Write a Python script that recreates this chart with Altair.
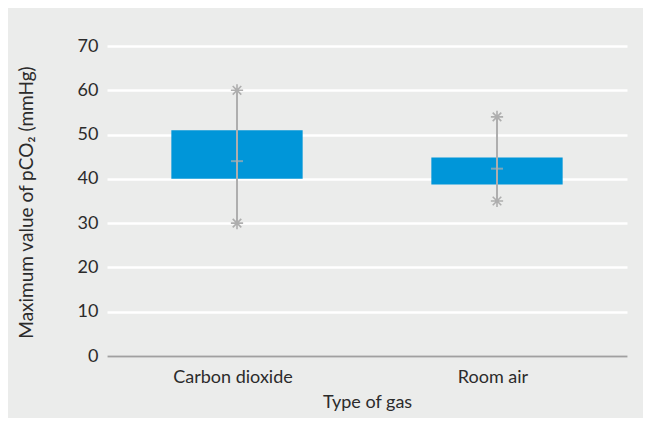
import altair as alt
import pandas as pd

groups = ["Carbon dioxide", "Room air"]
q1 = [40, 38.7]
q3 = [51, 44.8]
median = [44, 42.3]
min_vals = [30, 35]
max_vals = [60, 54]

df = pd.DataFrame({
    "group": groups, "q1": q1, "q3": q3, "median": median,
    "minv": min_vals, "maxv": max_vals,
})

FONT = "Lato"
TEXT = "#2b2b2b"
BOX = "#0096D9"
WHISK = "#AEAEAE"
asterisk = ("M0,-1L0,1M-1,0L1,0M-0.7,-0.7L0.7,0.7M-0.7,0.7L0.7,-0.7")

x = alt.X("group:N", sort=groups, title="Type of gas",
          scale=alt.Scale(paddingInner=0, paddingOuter=0),
          axis=alt.Axis(labelAngle=0, ticks=False, domainColor="#A0A0A0",
                        domainWidth=2, labelPadding=12, labelFontSize=18,
                        labelOffset=-4,
                        labelColor=TEXT, titleFontSize=18, titleColor=TEXT,
                        titleFontWeight="normal", titleFont=FONT, labelFont=FONT,
                        titleY=46, titleBaseline="middle", grid=False))
y_scale = alt.Scale(domain=[0, 70], nice=False)
y_axis = alt.Axis(values=list(range(0, 80, 10)), domain=False, ticks=False,
                  gridColor="white", gridWidth=2.5, labelPadding=9,
                  labelFontSize=18, labelColor=TEXT, labelFont=FONT,
                  titleFont=FONT, titleFontSize=19, titleColor=TEXT,
                  titleFontWeight="normal", titleAngle=-90, titleX=-81,
                  titleY=156, titleAlign="center", titleBaseline="middle")

base = alt.Chart(df)

bars = base.mark_bar(color=BOX, width=alt.RelativeBandSize(0.505)).encode(
    x=x,
    y=alt.Y("q1:Q", scale=y_scale, axis=y_axis,
            title="Maximum value of pCO₂ (mmHg)"),
    y2="q3:Q",
)
whisk = base.mark_rule(color=WHISK, strokeWidth=2).encode(
    x=x, y=alt.Y("minv:Q", scale=y_scale), y2="maxv:Q")
med = base.mark_tick(color=WHISK, size=12, thickness=2, orient="horizontal").encode(
    x=x, y=alt.Y("median:Q", scale=y_scale))
pmax = base.mark_point(shape=asterisk, size=150, filled=False, color=WHISK,
                       strokeWidth=1.6, opacity=1).encode(
    x=x, y=alt.Y("maxv:Q", scale=y_scale))
pmin = base.mark_point(shape=asterisk, size=150, filled=False, color=WHISK,
                       strokeWidth=1.6, opacity=1).encode(
    x=x, y=alt.Y("minv:Q", scale=y_scale))

chart = alt.layer(bars, whisk, med, pmax, pmin).properties(
    width=520, height=310,
    autosize=alt.AutoSizeParams(type="none"),
    padding={"left": 99, "top": 38, "right": 16, "bottom": 62},
    background="#EBECEB",
).configure_view(stroke=None)

chart.save("out.html", embed_options={"renderer": "svg", "actions": False})
